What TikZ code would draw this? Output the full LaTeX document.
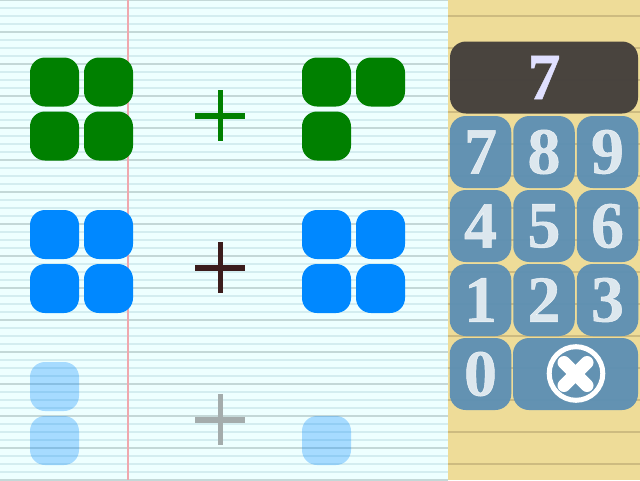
\documentclass[tikz,border=0pt]{standalone}
\usepackage{fontspec}
\setmainfont{Liberation Serif}[BoldFeatures={FakeBold=0.7}]
\definecolor{paper}{HTML}{EEFFFF}
\definecolor{ruleline}{HTML}{D4EDF0}
\definecolor{boldline}{HTML}{C4D8D8}
\definecolor{marginline}{HTML}{F0A8AE}
\definecolor{pad}{HTML}{EEDC98}
\definecolor{padline}{HTML}{CDBB80}
\definecolor{keyblue}{HTML}{5C8FB4}
\definecolor{tileblue}{HTML}{0088FF}
\definecolor{displaygrey}{HTML}{44403C}
\definecolor{plusdark}{HTML}{3C1C1C}
\definecolor{plusgrey}{HTML}{A4ACAC}
\tikzset{
  tile/.style = {rounded corners=15pt, minimum width=49pt, minimum height=49pt, inner sep=0pt, fill=#1},
  keycap/.style = {rounded corners=16pt, minimum height=72pt, inner sep=0pt, fill=keyblue, fill opacity=0.95,
    text=white, text opacity=0.78, font=\fontsize{66}{66}\selectfont\bfseries},
  plusbar/.style = {line width=5.6pt}
}
\begin{document}
\begin{tikzpicture}[x=1pt, y=-1pt]
   \useasboundingbox (0, 0) rectangle (640, 480);
   % paper
   \fill[paper] (0, 0) rectangle (448, 480);
   \foreach \y in {8, 16, ..., 480}
      \draw[ruleline, line width=2pt] (0, \y) -- (448, \y);
   \foreach \y in {0, 32, ..., 480}
      \draw[boldline, line width=2pt] (0, \y) -- (448, \y);
   \draw[marginline, line width=2pt] (128, 0) -- (128, 480);
   % pad
   \fill[pad] (448, 0) rectangle (640, 480);
   \foreach \y in {16, 48, ..., 464}
      \draw[padline, line width=2pt] (448, \y) -- (640, \y);
   % first row
   \foreach \name/\x/\y in {ga/54.5/82, gb/108.5/82, gc/54.5/136, gd/108.5/136, ge/326.5/82, gf/380.5/82, gg/326.5/136}
      \node[tile=green!50!black] (\name) at (\x, \y) {};
   \draw[plusbar, green!50!black] (195, 115.7) -- (245, 115.7);
   \draw[plusbar, green!50!black] (220.6, 90) -- (220.6, 141);
   % second row
   \foreach \name/\x/\y in {ba/54.5/234.5, bb/108.5/234.5, bc/54.5/288.5, bd/108.5/288.5, be/326.5/234.5, bf/380.5/234.5, bg/326.5/288.5, bh/380.5/288.5}
      \node[tile=tileblue] (\name) at (\x, \y) {};
   \draw[plusbar, plusdark] (195, 267.7) -- (245, 267.7);
   \draw[plusbar, plusdark] (220.6, 242) -- (220.6, 293);
   % third row
   \foreach \name/\x/\y in {la/54.5/386.5, lb/54.5/440.5, lc/326.5/440.5}
      \node[tile=tileblue, fill opacity=0.3] (\name) at (\x, \y) {};
   \draw[plusbar, plusgrey] (195, 419.7) -- (245, 419.7);
   \draw[plusbar, plusgrey] (220.6, 394) -- (220.6, 445);
   % display
   \node[rounded corners=16pt, minimum width=188pt, minimum height=72pt, inner sep=0pt, fill=displaygrey, fill opacity=0.97,
      text=blue!12!white, text opacity=1, font=\fontsize{66}{66}\selectfont\bfseries] (display) at (544, 77.5) {7};
   % keys
   \foreach \name/\x/\y in {7/480.5/152, 8/544/152, 9/607.5/152, 4/480.5/226, 5/544/226, 6/607.5/226, 1/480.5/300, 2/544/300, 3/607.5/300, 0/480.5/374}
      \node[keycap, minimum width=61.5pt] (key\name) at (\x, \y) {\name};
   \node[keycap, minimum width=125pt] (keyx) at (575.5, 374) {};
   % clear icon
   \draw[white, line width=5pt] (576, 373.5) circle (26.8pt);
   \draw[white, line width=13pt, line cap=round] ([shift={(-11.5pt,-11.5pt)}]keyx.center) -- ([shift={(11.5pt,11.5pt)}]keyx.center);
   \draw[white, line width=13pt, line cap=round] ([shift={(-11.5pt,11.5pt)}]keyx.center) -- ([shift={(11.5pt,-11.5pt)}]keyx.center);
\end{tikzpicture}
\end{document}
